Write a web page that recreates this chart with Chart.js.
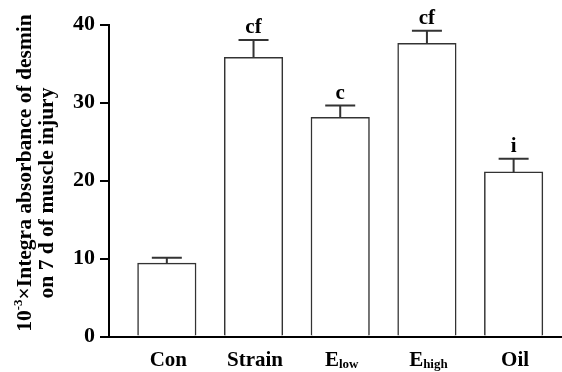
<!DOCTYPE html>
<html>
<head>
<meta charset="utf-8">
<script src="https://cdn.jsdelivr.net/npm/chart.js@4"></script>
<style>
  html, body { margin: 0; padding: 0; background: #fff; }
  #wrap { width: 562px; height: 372px; }
</style>
</head>
<body>
<div id="wrap"><canvas id="myChart" width="562" height="372"></canvas></div>
<script>
const catMain = ["Con", "Strain", "E", "E", "Oil"];
const catSub = ["", "", "low", "high", ""];
const values = [9.4, 35.8, 28.1, 37.6, 21.1];
const errors = [0.7, 2.2, 1.5, 1.6, 1.7];
const marks = ["", "cf", "c", "cf", "i"];
const yTicks = [0, 10, 20, 30, 40];

const FONT = "'Liberation Serif', 'Times New Roman', serif";
const INK = "#333";

// error bars, significance letters, category labels, y title
const extras = {
  id: "extras",
  afterDatasetsDraw(c) {
    const ctx = c.ctx;
    const xs = c.scales.x, ys = c.scales.y;
    ctx.save();
    values.forEach((v, i) => {
      const x = xs.getPixelForValue(i);
      const yTop = ys.getPixelForValue(v);
      const yCap = ys.getPixelForValue(v + errors[i]);
      ctx.strokeStyle = INK;
      ctx.lineWidth = 2;
      ctx.beginPath();
      ctx.moveTo(x, yTop);
      ctx.lineTo(x, yCap);
      ctx.moveTo(x - 15, yCap);
      ctx.lineTo(x + 15, yCap);
      ctx.stroke();

      if (marks[i]) {
        ctx.fillStyle = "#000";
        ctx.font = "bold 21px " + FONT;
        ctx.textAlign = "center";
        ctx.textBaseline = "alphabetic";
        ctx.fillText(marks[i], x, yCap - 7);
      }

      // category label with optional subscript
      ctx.textAlign = "left";
      ctx.font = "bold 21px " + FONT;
      const w1 = ctx.measureText(catMain[i]).width;
      ctx.font = "bold 13px " + FONT;
      const w2 = catSub[i] ? ctx.measureText(catSub[i]).width : 0;
      const x0 = x - (w1 + w2) / 2 + 1.5;
      const base = c.chartArea.bottom + 29;
      ctx.font = "bold 21px " + FONT;
      ctx.fillText(catMain[i], x0, base);
      if (catSub[i]) {
        ctx.font = "bold 13px " + FONT;
        ctx.fillText(catSub[i], x0 + w1, base + 2);
      }
    });

    // y axis title, two rotated lines
    ctx.fillStyle = "#000";
    ctx.textBaseline = "middle";
    ctx.textAlign = "left";
    const parts = [["10", 21.5, 0], ["-3", 13, -6], ["\u00d7Integra absorbance of desmin", 21.5, 0]];
    let total = 0;
    parts.forEach(p => { ctx.font = "bold " + p[1] + "px " + FONT; total += ctx.measureText(p[0]).width; });
    ctx.save();
    ctx.translate(25, 173);
    ctx.rotate(-Math.PI / 2);
    let px = -total / 2;
    parts.forEach(p => {
      ctx.font = "bold " + p[1] + "px " + FONT;
      ctx.fillText(p[0], px, p[2]);
      px += ctx.measureText(p[0]).width;
    });
    ctx.restore();
    ctx.save();
    ctx.translate(47, 193);
    ctx.rotate(-Math.PI / 2);
    ctx.textAlign = "center";
    ctx.font = "bold 21.5px " + FONT;
    ctx.fillText("on 7 d of muscle injury", 0, 0);
    ctx.restore();
    ctx.restore();
  }
};

new Chart(document.getElementById("myChart"), {
  type: "bar",
  data: {
    datasets: [{
      data: values.map((v, i) => ({ x: i, y: v })),
      backgroundColor: "#fff",
      borderColor: INK,
      borderWidth: 1.5,
      borderSkipped: "bottom",
      barThickness: 58.5
    }]
  },
  options: {
    responsive: false,
    animation: false,
    events: [],
    layout: { padding: { top: 24.5, right: 0, bottom: 35.5, left: 0 } },
    plugins: { legend: { display: false }, tooltip: { enabled: false } },
    scales: {
      x: {
        type: "linear",
        offset: false,
        min: -0.667,
        max: 4.558,
        ticks: { display: false },
        afterBuildTicks: s => { s.ticks = catMain.map((c, i) => ({ value: i })); },
        grid: { display: false, drawTicks: false, offset: false },
        border: { display: true, color: "#000", width: 2 },
        afterFit: s => { s.height = 0; }
      },
      y: {
        min: 0,
        max: 40,
        afterBuildTicks: s => { s.ticks = yTicks.map(v => ({ value: v })); },
        ticks: {
          color: "#000",
          padding: 5,
          font: { family: FONT, size: 22, weight: "bold" }
        },
        grid: { drawOnChartArea: false, drawTicks: true, tickLength: 9, color: "#000", lineWidth: 2 },
        border: { display: true, color: "#000", width: 2 },
        afterFit: s => { s.width = 109; }
      }
    }
  },
  plugins: [extras]
});
</script>
</body>
</html>
